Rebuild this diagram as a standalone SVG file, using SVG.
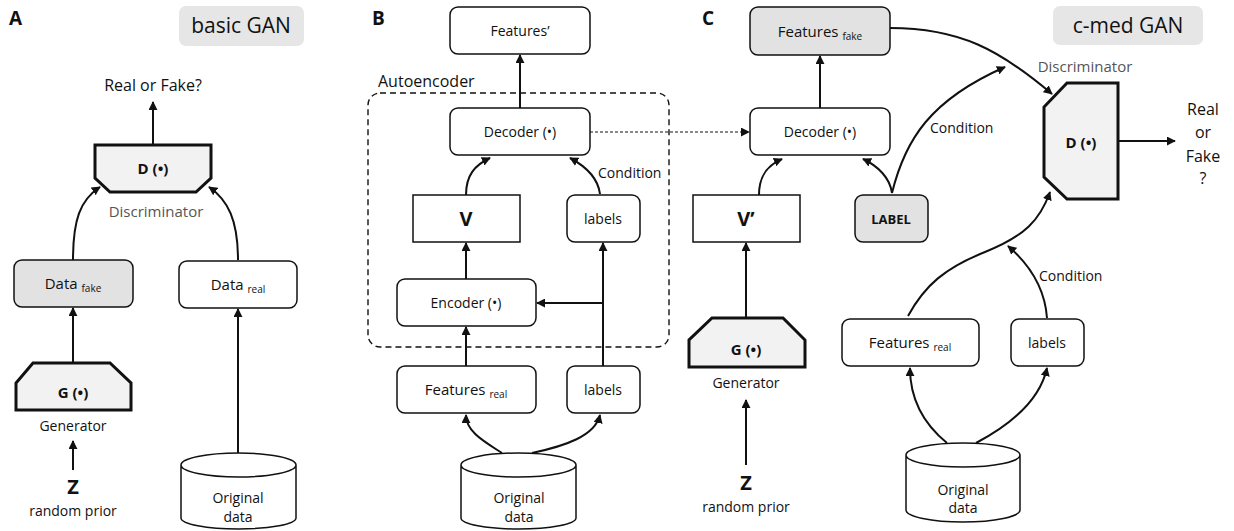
<svg xmlns="http://www.w3.org/2000/svg" width="1234" height="531" viewBox="0 0 1234 531">
<defs>
<style>
text{font-family:"Open Sans","Liberation Sans",sans-serif;fill:#111;}
.box{fill:#fff;stroke:#111;stroke-width:1.5;}
.gray{fill:#e2e2e2;}
.thick{fill:#f2f2f2;stroke:#111;stroke-width:3;stroke-linejoin:miter;}
.c{stroke:#111;stroke-width:2;fill:none;}
.t{font-size:14px;text-anchor:middle;}
.sub{font-size:10px;}
.b{font-weight:bold;}
.fn{font-size:15px;font-weight:bold;text-anchor:middle;}
.lbl{font-size:15px;fill:#555;text-anchor:middle;}
.panel{font-size:19px;font-weight:bold;}
.title{font-size:21px;text-anchor:middle;}
.tag{fill:#e6e6e6;stroke:none;}
</style>
<marker id="ah" viewBox="0 0 10 10" refX="9" refY="5" markerWidth="9" markerHeight="9" markerUnits="userSpaceOnUse" orient="auto">
<path d="M0,0 L10,5 L0,10 Z" fill="#111"/>
</marker>
</defs>
<rect width="1234" height="531" fill="#fff"/>

<!-- Panel A -->
<text class="panel" x="9" y="25">A</text>
<g id="tagA"><rect class="tag" x="179" y="6" width="125" height="40" rx="7"/><text class="title" x="241" y="33">basic GAN</text></g>
<g id="realfakeA"><text class="t" x="153" y="91" style="font-size:16px">Real or Fake?</text></g>
<g id="DA"><polygon class="thick" points="95,145 211,145 211,178 196,192 110,192 95,178"/><text class="fn" x="153" y="174">D (•)</text><text class="lbl" x="156" y="217">Discriminator</text></g>
<g id="datafake"><rect class="box gray" x="14" y="260" width="119" height="47" rx="8"/><text class="t" x="73" y="289" style="font-size:15px">Data <tspan class="sub" dy="3">fake</tspan></text></g>
<g id="datareal"><rect class="box" x="179" y="261" width="118" height="47" rx="8"/><text class="t" x="238" y="290" style="font-size:15px">Data <tspan class="sub" dy="3">real</tspan></text></g>
<g id="GA"><polygon class="thick" points="33,363 110,363 131,383 131,410 16,410 16,383"/><text class="fn" x="73" y="398">G (•)</text><text class="t" x="73" y="431">Generator</text></g>
<g id="ZA"><text class="t b" x="73" y="494" style="font-size:20px">Z</text><text class="t" x="73" y="516">random prior</text></g>
<g id="cylA"><path class="box" d="M181,465 L181,518 A57.5,11 0 0 0 296,518 L296,465 A57.5,12 0 0 0 181,465 Z M181,465 A57.5,12 0 0 0 296,465"/><text class="t" x="238" y="503">Original</text><text class="t" x="238" y="522">data</text></g>

<!-- Panel B -->
<text class="panel" x="372" y="25">B</text>
<g id="featuresP"><rect class="box" x="450" y="7" width="140" height="47" rx="8"/><text class="t" x="520" y="36">Features’</text></g>
<g id="autoenc"><text x="378" y="87" style="font-size:16px">Autoencoder</text><rect x="368" y="93" width="301" height="254" rx="12" fill="none" stroke="#111" stroke-width="1.4" stroke-dasharray="6,4"/></g>
<g id="decB"><rect class="box" x="450" y="108" width="140" height="47" rx="8"/><text class="t" x="520" y="137">Decoder (•)</text></g>
<g id="V"><rect class="box" x="413" y="195" width="107" height="47"/><text class="t b" x="466" y="226" style="font-size:20px">V</text></g>
<g id="labelsB1"><rect class="box" x="567" y="195" width="73" height="47" rx="8"/><text class="t" x="603" y="224">labels</text></g>
<g id="condB"><text x="598" y="178" style="font-size:14px">Condition</text></g>
<g id="enc"><rect class="box" x="397" y="279" width="139" height="47" rx="8"/><text class="t" x="466" y="308">Encoder (•)</text></g>
<g id="featrealB"><rect class="box" x="397" y="366" width="139" height="47" rx="8"/><text class="t" x="466" y="395" style="font-size:15px">Features <tspan class="sub" dy="3">real</tspan></text></g>
<g id="labelsB2"><rect class="box" x="567" y="366" width="73" height="47" rx="8"/><text class="t" x="603" y="395">labels</text></g>
<g id="cylB"><path class="box" d="M461,465 L461,518 A57.5,11 0 0 0 576,518 L576,465 A57.5,12 0 0 0 461,465 Z M461,465 A57.5,12 0 0 0 576,465"/><text class="t" x="519" y="503">Original</text><text class="t" x="519" y="522">data</text></g>

<!-- Panel C -->
<text class="panel" x="702" y="25">C</text>
<g id="tagC"><rect class="tag" x="1053" y="6" width="150" height="39" rx="7"/><text class="title" x="1128" y="33">c-med GAN</text></g>
<g id="featfake"><rect class="box gray" x="750" y="7" width="140" height="48" rx="8"/><text class="t" x="820" y="37" style="font-size:15px">Features <tspan class="sub" dy="3">fake</tspan></text></g>
<g id="decC"><rect class="box" x="750" y="108" width="140" height="47" rx="8"/><text class="t" x="820" y="137">Decoder (•)</text></g>
<g id="Vp"><rect class="box" x="693" y="195" width="107" height="47"/><text class="t b" x="746" y="226" style="font-size:20px">V’</text></g>
<g id="LABEL"><rect class="box gray" x="855" y="195" width="73" height="47" rx="8"/><text class="t b" x="891" y="224" style="font-size:13px">LABEL</text></g>
<g id="condC1"><text x="930" y="133" style="font-size:14px">Condition</text></g>
<g id="DC"><polygon class="thick" points="1067,83 1118,83 1118,199 1067,199 1044,177 1044,107"/><text class="fn" x="1081" y="148">D (•)</text><text class="lbl" x="1085" y="72">Discriminator</text></g>
<g id="realfakeC"><text class="t" x="1203" y="115" style="font-size:16px">Real</text><text class="t" x="1203" y="138" style="font-size:16px">or</text><text class="t" x="1203" y="162" style="font-size:16px">Fake</text><text class="t" x="1203" y="184" style="font-size:16px">?</text></g>
<g id="GC"><polygon class="thick" points="712,318 783,318 805,340 805,367 689,367 689,340"/><text class="fn" x="746" y="355">G (•)</text><text class="t" x="746" y="388">Generator</text></g>
<g id="ZC"><text class="t b" x="746" y="490" style="font-size:20px">Z</text><text class="t" x="746" y="512">random prior</text></g>
<g id="featrealC"><rect class="box" x="842" y="319" width="137" height="47" rx="8"/><text class="t" x="910" y="348" style="font-size:15px">Features <tspan class="sub" dy="3">real</tspan></text></g>
<g id="labelsC"><rect class="box" x="1011" y="319" width="73" height="47" rx="8"/><text class="t" x="1047" y="348">labels</text></g>
<g id="condC2"><text x="1039" y="281" style="font-size:14px">Condition</text></g>
<g id="cylC"><path class="box" d="M906,455 L906,510 A57,12 0 0 0 1020,510 L1020,455 A57,12 0 0 0 906,455 Z M906,455 A57,12 0 0 0 1020,455"/><text class="t" x="963" y="495">Original</text><text class="t" x="963" y="513">data</text></g>

<!-- Connectors -->
<g id="connectors">
<path class="c" marker-end="url(#ah)" d="M153,145 L153,102"/>
<path class="c" marker-end="url(#ah)" d="M73,260 C73,220 80,200 100,187"/>
<path class="c" marker-end="url(#ah)" d="M238,260 C238,220 228,200 209,187"/>
<path class="c" marker-end="url(#ah)" d="M73,363 L73,308"/>
<path class="c" marker-end="url(#ah)" d="M73,470 L73,441"/>
<path class="c" marker-end="url(#ah)" d="M238,453 L238,309"/>

<path class="c" marker-end="url(#ah)" d="M520,108 L520,55"/>
<path class="c" marker-end="url(#ah)" d="M466,195 C466,175 475,165 490,158"/>
<path class="c" marker-end="url(#ah)" d="M600,194 C598,178 585,166 570,158"/>
<path class="c" marker-end="url(#ah)" d="M466,279 L466,243"/>
<path class="c" marker-end="url(#ah)" d="M603,366 L603,243"/>
<path class="c" marker-end="url(#ah)" d="M603,303 L537,303"/>
<path class="c" marker-end="url(#ah)" d="M466,366 L466,327"/>
<path class="c" marker-end="url(#ah)" d="M502,453 C485,442 466,432 466,415"/>
<path class="c" marker-end="url(#ah)" d="M532,453 C565,446 595,436 600,415"/>
<path marker-end="url(#ah)" d="M590,132 L749,132" stroke="#111" stroke-width="1" stroke-dasharray="3,2" fill="none"/>

<path class="c" marker-end="url(#ah)" d="M820,108 L820,56"/>
<path class="c" marker-end="url(#ah)" d="M759,195 C759,175 768,165 782,159"/>
<path class="c" marker-end="url(#ah)" d="M892,193 C890,178 878,166 863,159"/>
<path class="c" marker-end="url(#ah)" d="M892,193 C905,140 930,100 1005,67"/>
<path class="c" marker-end="url(#ah)" d="M890,28 C960,28 1000,50 1052,94"/>
<path class="c" marker-end="url(#ah)" d="M1118,141 L1175,141"/>
<path class="c" marker-end="url(#ah)" d="M908,316 C925,285 945,268 985,252 C1025,236 1040,220 1050,192"/>
<path class="c" marker-end="url(#ah)" d="M1047,318 C1045,290 1030,265 1008,246"/>
<path class="c" marker-end="url(#ah)" d="M947,443 C925,425 910,400 910,368"/>
<path class="c" marker-end="url(#ah)" d="M976,443 C1010,425 1040,400 1047,368"/>
<path class="c" marker-end="url(#ah)" d="M746,318 L746,243"/>
<path class="c" marker-end="url(#ah)" d="M746,465 L746,400"/>
</g>
</svg>
